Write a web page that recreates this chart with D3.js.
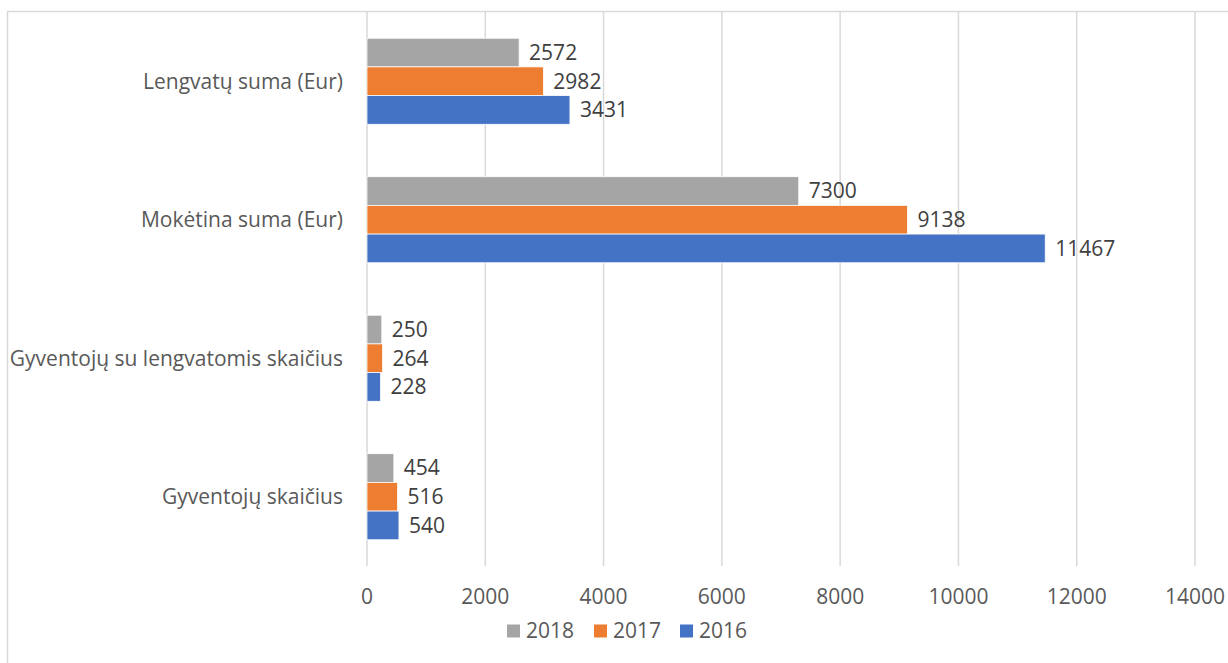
<!DOCTYPE html>
<meta charset="utf-8">
<html>
<head>
    <script src="https://d3js.org/d3.v7.min.js"></script>
    <style>
        body { margin: 0; background: white; }
        text { font-family: "Open Sans", sans-serif; }
    </style>
</head>
<body>
    <script>
        // categories, top to bottom
        const categories = [
            "Lengvatų suma (Eur)",
            "Mokėtina suma (Eur)",
            "Gyventojų su lengvatomis skaičius",
            "Gyventojų skaičius"
        ];
        const seriesNames = ["2018", "2017", "2016"];
        const values2018 = [2572, 7300, 250, 454];
        const values2017 = [2982, 9138, 264, 516];
        const values2016 = [3431, 11467, 228, 540];
        const xTicks = [0, 2000, 4000, 6000, 8000, 10000, 12000, 14000];
        const colors = { "2018": "#a5a5a5", "2017": "#ed7d31", "2016": "#4472c4" };

        const seriesValues = { "2018": values2018, "2017": values2017, "2016": values2016 };

        const width = 1228;
        const height = 663;

        const svg = d3.select('body')
            .append('svg')
            .attr('width', width)
            .attr('height', height);

        // chart frame (right and bottom edges fall outside the picture)
        svg.append('rect')
            .attr('x', 7.5)
            .attr('y', 11.5)
            .attr('width', 1300)
            .attr('height', 700)
            .attr('fill', 'white')
            .attr('stroke', '#d9d9d9')
            .attr('stroke-width', 1.5);

        const x = d3.scaleLinear()
            .domain([0, 14000])
            .range([367, 1195]);

        const y = d3.scaleBand()
            .domain(categories)
            .range([12, 566])
            .paddingInner(0.379)
            .paddingOuter(0.1895);

        const ySub = d3.scaleBand()
            .domain(seriesNames)
            .range([0, y.bandwidth()]);

        // gridlines
        svg.append('g')
            .selectAll('line')
            .data(xTicks)
            .enter()
            .append('line')
            .attr('x1', d => x(d))
            .attr('x2', d => x(d))
            .attr('y1', 12)
            .attr('y2', 566)
            .attr('stroke', '#d9d9d9')
            .attr('stroke-width', 1.5);

        // tick labels
        svg.append('g')
            .selectAll('text')
            .data(xTicks)
            .enter()
            .append('text')
            .attr('x', d => x(d))
            .attr('y', 597)
            .attr('dy', '0.35em')
            .attr('text-anchor', 'middle')
            .style('font-size', '21px')
            .style('fill', '#595959')
            .text(d => d);

        // category labels
        svg.append('g')
            .selectAll('text')
            .data(categories)
            .enter()
            .append('text')
            .attr('x', 343)
            .attr('y', d => y(d) + y.bandwidth() / 2)
            .attr('dy', '0.35em')
            .attr('text-anchor', 'end')
            .style('font-size', '21px')
            .style('fill', '#595959')
            .text(d => d);

        // bars
        const groups = svg.append('g')
            .selectAll('g')
            .data(seriesNames)
            .enter()
            .append('g');

        groups.selectAll('rect')
            .data(s => categories.map((c, i) => ({ s: s, c: c, v: seriesValues[s][i] })))
            .enter()
            .append('rect')
            .attr('x', x(0))
            .attr('y', d => y(d.c) + ySub(d.s))
            .attr('width', d => x(d.v) - x(0))
            .attr('height', ySub.bandwidth())
            .attr('fill', d => colors[d.s])
            .attr('stroke', 'white')
            .attr('stroke-width', 0.75);

        // value labels
        groups.selectAll('text')
            .data(s => categories.map((c, i) => ({ s: s, c: c, v: seriesValues[s][i] })))
            .enter()
            .append('text')
            .attr('x', d => x(d.v) + 10)
            .attr('y', d => y(d.c) + ySub(d.s) + ySub.bandwidth() / 2)
            .attr('dy', '0.35em')
            .style('font-size', '21px')
            .style('fill', '#404040')
            .text(d => d.v);

        // legend
        const legendX = [507, 594, 680];
        const legend = svg.append('g')
            .selectAll('g')
            .data(seriesNames)
            .enter()
            .append('g')
            .attr('transform', (d, i) => `translate(${legendX[i]}, 631)`);

        legend.append('rect')
            .attr('x', 0)
            .attr('y', -6.5)
            .attr('width', 13)
            .attr('height', 13)
            .attr('fill', d => colors[d]);

        legend.append('text')
            .attr('x', 19)
            .attr('y', 0)
            .attr('dy', '0.35em')
            .style('font-size', '21px')
            .style('fill', '#595959')
            .text(d => d);
    </script>
</body>
</html>
